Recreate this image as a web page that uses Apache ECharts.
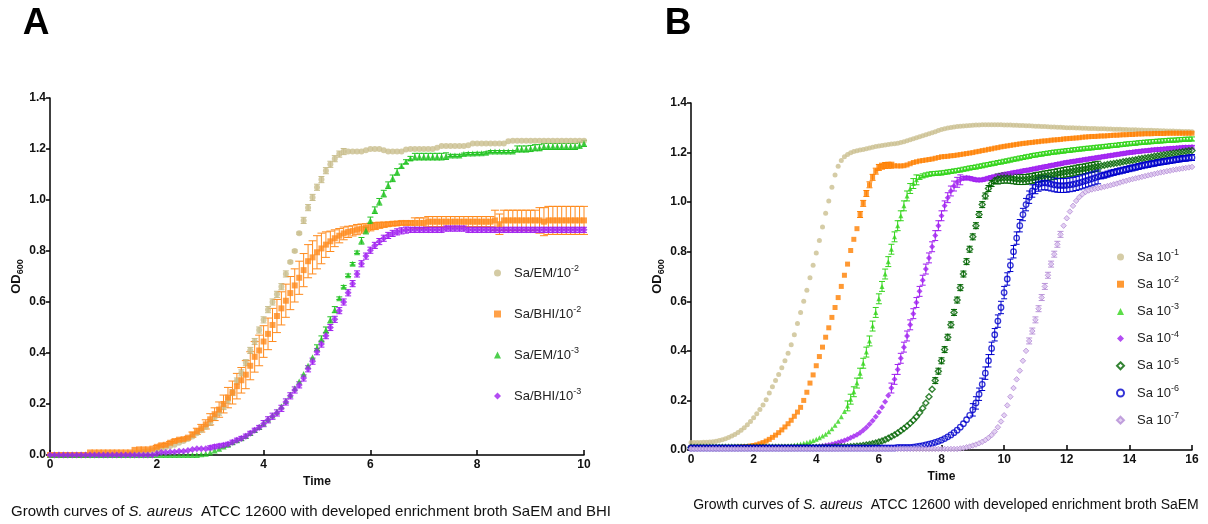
<!DOCTYPE html>
<html>
<head>
<meta charset="utf-8">
<script src="https://cdn.jsdelivr.net/npm/echarts/dist/echarts.min.js"></script>
<style>
  html, body { margin: 0; padding: 0; background: #fff; }
  #chart { width: 1208px; height: 524px; }
</style>
</head>
<body>
<div id="chart"></div>
<script>
// ---------- Panel A: SaEM vs BHI, OD600 read every 5 min for 10 h ----------
const stepA = 5 / 60;
const namesA = ['Sa/EM/10^-2', 'Sa/BHI/10^-2', 'Sa/EM/10^-3', 'Sa/BHI/10^-3'];

const emA2 = [
  0,0,0,0,0,0,0,0,0,0,0,0,
  0,0,0,0,0,0,0.005,0.008,0.01,0.012,0.015,0.018,
  0.02,0.025,0.03,0.035,0.04,0.048,0.055,0.063,0.073,0.085,0.097,0.11,
  0.128,0.148,0.168,0.19,0.215,0.245,0.29,0.322,0.362,0.41,0.445,0.49,
  0.53,0.57,0.6,0.63,0.66,0.71,0.757,0.8,0.87,0.92,0.97,1.01,
  1.05,1.08,1.115,1.14,1.162,1.18,1.19,1.19,1.19,1.19,1.19,1.195,
  1.2,1.2,1.2,1.195,1.19,1.19,1.19,1.19,1.198,1.2,1.2,1.2,
  1.2,1.2,1.2,1.205,1.212,1.212,1.212,1.212,1.212,1.212,1.215,1.222,
  1.222,1.222,1.222,1.222,1.222,1.222,1.222,1.23,1.232,1.232,1.232,1.232,
  1.232,1.232,1.232,1.232,1.232,1.232,1.232,1.232,1.232,1.232,1.232,1.232,
  1.232
];
const bhiA2 = [
  0,0,0,0,0,0,0,0,0,0.01,0.01,0.01,
  0.01,0.01,0.01,0.01,0.01,0.01,0.01,0.02,0.022,0.022,0.022,0.025,
  0.032,0.038,0.04,0.048,0.055,0.06,0.062,0.068,0.08,0.093,0.105,0.12,
  0.14,0.16,0.178,0.2,0.225,0.245,0.27,0.293,0.315,0.35,0.385,0.41,
  0.445,0.475,0.51,0.545,0.575,0.605,0.635,0.665,0.695,0.725,0.76,0.775,
  0.795,0.81,0.825,0.838,0.85,0.86,0.869,0.875,0.879,0.884,0.888,0.891,
  0.894,0.898,0.901,0.903,0.905,0.907,0.908,0.91,0.91,0.91,0.91,0.91,
  0.91,0.915,0.915,0.915,0.915,0.915,0.915,0.915,0.915,0.915,0.915,0.915,
  0.915,0.915,0.915,0.915,0.92,0.905,0.92,0.92,0.92,0.92,0.92,0.92,
  0.92,0.92,0.92,0.915,0.92,0.92,0.92,0.92,0.92,0.92,0.92,0.92,
  0.92
];
const emA3 = [
  0,0,0,0,0,0,0,0,0,0,0,0,
  0,0,0,0,0,0,0,0,0,0,0,0,
  0,0,0,0,0,0,0,0,0,0,0.003,0.005,
  0.01,0.018,0.025,0.033,0.04,0.05,0.058,0.066,0.075,0.086,0.098,0.11,
  0.125,0.14,0.155,0.17,0.19,0.212,0.236,0.262,0.288,0.318,0.35,0.383,
  0.42,0.455,0.49,0.53,0.57,0.615,0.66,0.705,0.75,0.795,0.84,0.88,
  0.92,0.96,0.993,1.025,1.058,1.085,1.11,1.133,1.15,1.163,1.17,1.17,
  1.17,1.17,1.17,1.17,1.17,1.172,1.175,1.175,1.175,1.18,1.182,1.182,
  1.183,1.183,1.185,1.19,1.19,1.19,1.19,1.19,1.19,1.2,1.2,1.2,
  1.202,1.205,1.205,1.21,1.21,1.21,1.21,1.21,1.21,1.21,1.21,1.215,
  1.222
];
const bhiA3 = [
  0,0,0,0,0,0,0,0,0,0,0,0,
  0,0,0,0,0,0,0,0,0,0,0,0,
  0.005,0.01,0.01,0.012,0.012,0.015,0.015,0.018,0.022,0.025,0.025,0.025,
  0.028,0.032,0.035,0.038,0.042,0.05,0.058,0.065,0.074,0.085,0.097,0.108,
  0.123,0.138,0.152,0.165,0.183,0.208,0.232,0.255,0.275,0.302,0.338,0.368,
  0.405,0.435,0.468,0.5,0.532,0.566,0.6,0.636,0.672,0.71,0.75,0.78,
  0.803,0.822,0.837,0.85,0.861,0.869,0.875,0.879,0.882,0.883,0.883,0.883,
  0.883,0.883,0.883,0.883,0.883,0.888,0.888,0.888,0.888,0.888,0.883,0.883,
  0.883,0.883,0.883,0.883,0.883,0.883,0.883,0.883,0.883,0.883,0.883,0.883,
  0.883,0.883,0.883,0.883,0.883,0.883,0.883,0.883,0.883,0.883,0.883,0.883,
  0.883
];

// SEM of the triplicate wells: first read time (h), then one value per read
const semEmA2From = 3.0;
const semEmA2 = [
  0.012,0.012,0.012,0.012,0.012,0.012,0.012,0.012,0.012,0.012,
  0.012,0.012,0.012,0.012,0.012,0.012,0.012,0.012,0.004,0.004,
  0.004,0.012,0.012,0.012,0.012,0.012,0.012,0.012,0.012,0.012,
  0.012
];
const semBhiA2From = 2.0;
const semBhiA2 = [
  0.005,0.005,0.005,0.005,0.005,0.005,0.005,0.005,
  0.01,0.012,0.015,0.018,
  0.022,0.025,0.03,0.035,
  0.04,0.045,0.05,0.05,0.055,0.055,0.06,0.06,
  0.062,0.062,0.065,0.065,0.065,0.065,0.065,0.065,0.065,0.065,0.065,0.065,
  0.065,0.06,0.05,0.04,
  0.033,0.028,0.025,0.022,0.02,0.02,
  0.018,0.016,0.015,0.014,0.012,0.01,
  0.008,0.008,0.008,0.008,0.008,0.008,
  0.02,0.02,0.02,0.02,0.02,0.02,0.02,0.02,0.02,0.02,0.02,0.02,0.02,0.02,0.02,0.02,0.02,0.02,
  0.04,0.04,0.04,0.04,0.04,0.04,0.04,0.04,0.04,0.04,
  0.05,0.055,0.055,0.055,0.055,0.055,0.055,0.055,0.055,0.055,0.055
];
const semEmA3From = 5.0;
const semEmA3 = [
  0.012,0.012,0.012,0.012,0.012,
  0.005,0.005,0.005,0.005,0.005,
  0.013,0.013,0.013,0.013,0.013,0.013,0.013,0.013,0.013,
  0.008,0.008,0.008,
  0.013,0.013,0.013,0.013,0.013,0.013,0.013,0.013,
  0.004,0.004,0.004,0.004,0.004,0.004,0.004,0.004,0.004,0.004,0.004,0.004,0.004,0.004,0.004,
  0.012,0.012,0.012,0.012,0.012,0.012,0.012,0.012,0.012,0.012,0.012,0.012,0.012,0.012,0.012,0.012
];
const semBhiA3From = 3.0;
const semBhiA3 = [
  0.008,0.008,0.008,0.008,0.008,0.008,0.008,0.008,0.008,0.008,0.008,0.008,
  0.012,0.012,0.012,0.012,0.012,0.012,0.012,0.012,0.012,0.012,0.012,
  0.012,0.012,0.012,0.012,0.012,0.012,0.012,0.012,0.012,0.012,0.012,
  0.012,0.012,0.012,0.012,0.012,0.012,0.012,0.012,0.012,0.012,0.012,
  0.01,0.01,0.01,0.01,0.01,0.01,0.01,0.01,0.01,0.01,
  0.01,0.01,0.01,0.01,0.01,0.01,0.01,0.01,0.01,0.01,
  0.01,0.01,0.01,0.01,0.01,0.01,0.01,0.01,0.01,0.01,
  0.01,0.01,0.01,0.01,0.01,0.01,0.01,0.01,0.01,0.01
];

// ---------- Panel B: SaEM dilution series, OD600 read every 6 min for 16 h ----------
const stepB = 0.1;
const namesB = ['Sa 10^-1', 'Sa 10^-2', 'Sa 10^-3', 'Sa 10^-4', 'Sa 10^-5', 'Sa 10^-6', 'Sa 10^-7'];

const sa1 = [
  0.03,0.03,0.03,0.03,0.031,0.031,0.032,0.033,0.035,0.038,
  0.041,0.045,0.05,0.056,0.063,0.071,0.08,0.09,0.102,0.115,
  0.13,0.146,0.163,0.182,0.203,0.23,0.255,0.28,0.305,0.332,
  0.36,0.39,0.425,0.465,0.51,0.555,0.6,0.645,0.695,0.745,
  0.795,0.845,0.9,0.955,1.005,1.06,1.11,1.145,1.168,1.183,
  1.192,1.199,1.204,1.207,1.21,1.212,1.215,1.218,1.221,1.224,
  1.227,1.229,1.231,1.233,1.235,1.236,1.238,1.241,1.244,1.248,
  1.252,1.256,1.26,1.264,1.268,1.272,1.276,1.28,1.284,1.289,
  1.293,1.296,1.299,1.301,1.303,1.305,1.306,1.307,1.308,1.309,
  1.31,1.311,1.311,1.312,1.312,1.312,1.312,1.312,1.312,1.312,
  1.311,1.311,1.311,1.31,1.31,1.309,1.309,1.308,1.308,1.307,
  1.306,1.306,1.305,1.305,1.304,1.303,1.303,1.302,1.302,1.301,
  1.3,1.3,1.3,1.299,1.299,1.298,1.298,1.297,1.297,1.297,
  1.296,1.296,1.296,1.295,1.295,1.294,1.294,1.294,1.293,1.293,
  1.292,1.292,1.292,1.291,1.291,1.29,1.29,1.29,1.289,1.289,
  1.288,1.288,1.287,1.287,1.287,1.286,1.286,1.285,1.285,1.285,
  1.284
];
const sa2 = [
  0.01,0.01,0.01,0.01,0.01,0.01,0.01,0.01,0.01,0.01,
  0.01,0.01,0.01,0.01,0.01,0.011,0.012,0.013,0.014,0.016,
  0.018,0.021,0.025,0.03,0.036,0.043,0.051,0.06,0.07,0.081,
  0.093,0.106,0.12,0.136,0.153,0.172,0.2,0.233,0.27,0.303,
  0.34,0.377,0.415,0.455,0.493,0.535,0.575,0.615,0.66,0.705,
  0.75,0.805,0.85,0.893,0.95,0.995,1.035,1.07,1.1,1.125,
  1.14,1.145,1.148,1.149,1.149,1.147,1.146,1.146,1.147,1.15,
  1.155,1.16,1.163,1.166,1.168,1.17,1.172,1.174,1.177,1.18,
  1.183,1.184,1.185,1.187,1.188,1.19,1.192,1.194,1.196,1.198,
  1.2,1.203,1.205,1.208,1.21,1.213,1.215,1.218,1.22,1.223,
  1.225,1.227,1.229,1.231,1.233,1.235,1.237,1.238,1.24,1.241,
  1.243,1.244,1.246,1.247,1.248,1.25,1.251,1.252,1.253,1.255,
  1.256,1.257,1.258,1.259,1.26,1.262,1.263,1.264,1.265,1.265,
  1.266,1.267,1.267,1.268,1.269,1.27,1.27,1.271,1.272,1.272,
  1.273,1.273,1.274,1.275,1.275,1.276,1.276,1.276,1.277,1.277,
  1.277,1.277,1.278,1.278,1.278,1.278,1.278,1.278,1.278,1.278,
  1.278
];
const sa3 = [
  0.01,0.01,0.01,0.01,0.01,0.01,0.01,0.01,0.01,0.01,
  0.01,0.01,0.01,0.01,0.01,0.01,0.01,0.01,0.01,0.01,
  0.01,0.01,0.01,0.01,0.01,0.01,0.011,0.011,0.012,0.012,
  0.014,0.015,0.017,0.019,0.021,0.024,0.027,0.03,0.034,0.038,
  0.043,0.049,0.056,0.064,0.074,0.086,0.1,0.116,0.134,0.155,
  0.178,0.205,0.235,0.27,0.31,0.35,0.395,0.44,0.5,0.555,
  0.61,0.66,0.71,0.76,0.81,0.86,0.905,0.945,0.985,1.025,
  1.055,1.075,1.09,1.1,1.106,1.11,1.113,1.115,1.116,1.117,
  1.118,1.12,1.122,1.124,1.126,1.128,1.13,1.133,1.135,1.138,
  1.14,1.142,1.145,1.147,1.15,1.152,1.155,1.157,1.16,1.162,
  1.165,1.167,1.17,1.173,1.175,1.178,1.18,1.183,1.185,1.188,
  1.19,1.192,1.194,1.196,1.198,1.2,1.202,1.203,1.205,1.206,
  1.208,1.209,1.211,1.212,1.214,1.215,1.217,1.218,1.219,1.221,
  1.222,1.223,1.225,1.226,1.228,1.229,1.23,1.232,1.233,1.235,
  1.236,1.237,1.238,1.24,1.241,1.242,1.243,1.244,1.245,1.246,
  1.247,1.248,1.249,1.25,1.25,1.251,1.252,1.253,1.254,1.254,
  1.255
];
const sa4 = [
  0.01,0.01,0.01,0.01,0.01,0.01,0.01,0.01,0.01,0.01,
  0.01,0.01,0.01,0.01,0.01,0.01,0.01,0.01,0.01,0.01,
  0.01,0.01,0.01,0.01,0.01,0.01,0.01,0.01,0.01,0.01,
  0.01,0.01,0.01,0.01,0.01,0.01,0.012,0.012,0.012,0.012,
  0.012,0.014,0.016,0.018,0.02,0.023,0.026,0.03,0.034,0.038,
  0.043,0.049,0.055,0.062,0.07,0.08,0.091,0.104,0.118,0.134,
  0.152,0.172,0.195,0.22,0.25,0.285,0.325,0.37,0.415,0.46,
  0.505,0.55,0.595,0.64,0.685,0.73,0.775,0.82,0.865,0.905,
  0.945,0.985,1.018,1.045,1.065,1.08,1.09,1.096,1.098,1.096,
  1.093,1.09,1.089,1.09,1.093,1.097,1.1,1.103,1.106,1.109,
  1.112,1.114,1.116,1.119,1.121,1.123,1.126,1.128,1.13,1.133,
  1.135,1.138,1.14,1.143,1.145,1.148,1.15,1.153,1.155,1.158,
  1.16,1.162,1.164,1.166,1.168,1.17,1.172,1.174,1.176,1.178,
  1.18,1.182,1.184,1.186,1.188,1.19,1.192,1.194,1.196,1.198,
  1.2,1.201,1.203,1.204,1.206,1.207,1.208,1.21,1.211,1.212,
  1.213,1.214,1.215,1.216,1.217,1.218,1.219,1.22,1.221,1.221,
  1.222
];
const sa5 = [
  0.01,0.01,0.01,0.01,0.01,0.01,0.01,0.01,0.01,0.01,
  0.01,0.01,0.01,0.01,0.01,0.01,0.01,0.01,0.01,0.01,
  0.01,0.01,0.01,0.01,0.01,0.01,0.01,0.01,0.01,0.01,
  0.01,0.01,0.01,0.01,0.01,0.01,0.01,0.01,0.01,0.01,
  0.01,0.01,0.01,0.01,0.01,0.01,0.012,0.012,0.012,0.012,
  0.012,0.013,0.014,0.015,0.016,0.018,0.02,0.022,0.025,0.028,
  0.032,0.036,0.041,0.047,0.054,0.061,0.069,0.078,0.087,0.097,
  0.108,0.12,0.134,0.15,0.168,0.19,0.215,0.245,0.28,0.318,
  0.36,0.405,0.455,0.505,0.555,0.605,0.655,0.71,0.76,0.81,
  0.86,0.905,0.95,0.99,1.025,1.055,1.075,1.087,1.093,1.096,
  1.097,1.097,1.096,1.094,1.092,1.091,1.091,1.092,1.094,1.096,
  1.099,1.101,1.103,1.106,1.108,1.11,1.112,1.115,1.117,1.12,
  1.122,1.124,1.126,1.129,1.131,1.133,1.135,1.138,1.14,1.143,
  1.145,1.147,1.149,1.152,1.154,1.156,1.158,1.16,1.163,1.165,
  1.167,1.169,1.171,1.174,1.176,1.178,1.18,1.182,1.185,1.187,
  1.189,1.191,1.193,1.195,1.197,1.199,1.201,1.203,1.205,1.207,
  1.208
];
const sa6 = [
  0.008,0.008,0.008,0.008,0.008,0.008,0.008,0.008,0.008,0.008,
  0.008,0.008,0.008,0.008,0.008,0.008,0.008,0.008,0.008,0.008,
  0.008,0.008,0.008,0.008,0.008,0.008,0.008,0.008,0.008,0.008,
  0.008,0.008,0.008,0.008,0.008,0.008,0.008,0.008,0.008,0.008,
  0.008,0.008,0.008,0.008,0.008,0.008,0.008,0.008,0.008,0.008,
  0.008,0.008,0.008,0.008,0.008,0.008,0.008,0.008,0.008,0.008,
  0.008,0.008,0.008,0.008,0.008,0.008,0.01,0.01,0.01,0.01,
  0.01,0.012,0.014,0.016,0.018,0.021,0.024,0.027,0.031,0.035,
  0.04,0.046,0.053,0.061,0.07,0.08,0.092,0.106,0.122,0.14,
  0.162,0.19,0.225,0.265,0.31,0.36,0.41,0.465,0.52,0.575,
  0.635,0.69,0.745,0.8,0.855,0.905,0.95,0.99,1.02,1.045,
  1.062,1.072,1.077,1.078,1.076,1.073,1.07,1.068,1.067,1.067,
  1.068,1.07,1.072,1.075,1.078,1.082,1.086,1.09,1.094,1.098,
  1.102,1.106,1.109,1.113,1.117,1.12,1.123,1.126,1.129,1.132,
  1.135,1.138,1.141,1.144,1.147,1.15,1.152,1.155,1.157,1.16,
  1.162,1.164,1.166,1.168,1.17,1.172,1.174,1.176,1.177,1.179,
  1.18
];
const sa7 = [
  0.004,0.004,0.004,0.004,0.004,0.004,0.004,0.004,0.004,0.004,
  0.004,0.004,0.004,0.004,0.004,0.004,0.004,0.004,0.004,0.004,
  0.004,0.004,0.004,0.004,0.004,0.004,0.004,0.004,0.004,0.004,
  0.004,0.004,0.004,0.004,0.004,0.004,0.004,0.004,0.004,0.004,
  0.004,0.004,0.004,0.004,0.004,0.004,0.004,0.004,0.004,0.004,
  0.004,0.004,0.004,0.004,0.004,0.004,0.004,0.004,0.004,0.004,
  0.004,0.004,0.004,0.004,0.004,0.004,0.004,0.004,0.004,0.004,
  0.004,0.004,0.004,0.004,0.004,0.004,0.004,0.004,0.004,0.004,
  0.004,0.004,0.004,0.004,0.004,0.004,0.006,0.008,0.011,0.014,
  0.018,0.022,0.027,0.033,0.04,0.049,0.06,0.074,0.092,0.115,
  0.14,0.18,0.215,0.25,0.285,0.32,0.36,0.4,0.44,0.48,
  0.525,0.57,0.615,0.66,0.705,0.75,0.79,0.83,0.87,0.905,
  0.935,0.962,0.985,1.005,1.02,1.032,1.041,1.047,1.051,1.054,
  1.056,1.059,1.062,1.065,1.068,1.072,1.075,1.079,1.083,1.086,
  1.09,1.093,1.096,1.099,1.102,1.105,1.108,1.111,1.114,1.117,
  1.12,1.122,1.125,1.127,1.13,1.132,1.134,1.136,1.138,1.14,
  1.142
];

const semSa2From = 5.4;
const semSa2 = [0.012,0.012,0.012,0.012,0.012,0.012,0.012,0.012,0.012,0.012,0.012];
const semSa3From = 5.0;
const semSa3 = [
  0.02,0.02,0.02,0.02,0.02,0.02,0.02,0.02,0.02,0.02,
  0.02,0.02,0.02,0.02,0.02,0.02,0.02,0.02,0.02,0.02,
  0.02,0.02,0.02,0.008,0.008,0.008,0.008,0.008,0.008,0.008,
  0.008,0.008,0.008,0.008,0.008,0.008,0.008,0.008,0.008,0.008,
  0.008,0.008,0.008,0.008,0.008,0.008,0.008,0.008,0.008,0.008,
  0.008,0.008,0.008,0.008,0.008,0.008,0.008,0.008,0.008,0.008,
  0.008,0.008,0.008,0.008,0.008,0.008,0.008,0.008,0.008,0.008,
  0.008,0.008,0.008,0.008,0.008,0.008,0.008,0.008,0.008,0.008,
  0.008,0.008,0.008,0.008,0.008,0.008,0.008,0.008,0.008,0.008,
  0.008,0.008,0.008,0.008,0.008,0.008,0.008,0.008,0.008,0.008,
  0.008,0.008,0.008,0.008,0.008,0.008,0.008,0.008,0.008,0.008,
  0.008
];
const semSa4From = 6.4;
const semSa4 = [
  0.02,0.02,0.02,0.02,0.02,0.02,0.02,0.02,0.02,0.02,
  0.02,0.02,0.02,0.02,0.02,0.02,0.02,0.02,0.02,0.02,
  0.02,0.02,0.02,0.007,0.007,0.007,0.007,0.007,0.007,0.007,
  0.007,0.007,0.007,0.007,0.007,0.007,0.007,0.007,0.007,0.007,
  0.007,0.007,0.007,0.007,0.007,0.007,0.007,0.007,0.007,0.007,
  0.007,0.007,0.007,0.007,0.007,0.007,0.007,0.007,0.007,0.007,
  0.007,0.007,0.007,0.007,0.007,0.007,0.007,0.007,0.007,0.007,
  0.007,0.007,0.007,0.007,0.007,0.007,0.007,0.007,0.007,0.007,
  0.007,0.007,0.007,0.007,0.007,0.007,0.007,0.007,0.007,0.007,
  0.007,0.007,0.007,0.007,0.007,0.007,0.007
];
const semSa5From = 7.8;
const semSa5 = [
  0.012,0.012,0.012,0.012,0.012,0.012,0.012,0.012,0.012,0.012,
  0.012,0.012,0.012,0.012,0.012,0.012,0.012,0.012,0.012,0.012,
  0.02,0.02,0.02,0.02,0.02,0.02,0.02,0.02,0.02,0.02,
  0.02,0.02,0.02,0.02,0.02,0.02,0.02,0.02,0.02,0.02,
  0.02,0.02,0.02,0.02,0.02,0.02,0.02,0.02,0.02,0.02,
  0.02,0.02,0.02
];
const semSa6From = 9.0;
const semSa6 = [
  0.025,0.025,0.025,0.025,0.025,0.025,0.025,0.025,0.025,0.025,
  0.025,0.025,0.025,0.025,0.025,0.025,0.025,0.025,0.025,0.025,
  0.028,0.028,0.028,0.028,0.028,0.028,0.028,0.028,0.028,0.028,
  0.028,0.028,0.028,0.028,0.028,0.028,0.028,0.028,0.028,0.028,
  0.028,
  0.012,0.012,0.012,0.012,0.012,0.012,0.012,0.012,0.012,0.012,
  0.012,0.012,0.012,0.012,0.012,0.012,0.012,0.012,0.012,0.012,
  0.012,0.012,0.012,0.012,0.012,0.012,0.012,0.012,0.012,0.012
];
const semSa7From = 10.8;
const semSa7 = [0.012,0.012,0.012,0.012,0.012,0.012,0.012,0.012,0.012,0.012,0.012];

// ---------- drawing ----------
const FONT = 'Arial, "Liberation Sans", Helvetica, sans-serif';

function readings(values, step) {
  return values.map((v, i) => [Math.round(i * step * 1000) / 1000, v]);
}
function semBars(values, sem, from, step) {
  const first = Math.round(from / step);
  const out = [];
  sem.forEach((e, k) => {
    const i = first + k;
    if (values[i] !== undefined && e > 0) out.push([Math.round(i * step * 1000) / 1000, values[i], e]);
  });
  return out;
}

function errorSeries(data, axis, color, cap) {
  return {
    type: 'custom', xAxisIndex: axis, yAxisIndex: axis, silent: true,
    encode: { x: 0, y: 1 }, data,
    renderItem(params, api) {
      const x = api.value(0), y = api.value(1), e = api.value(2);
      const hi = api.coord([x, y + e]);
      const lo = api.coord([x, Math.max(0, y - e)]);
      const style = { stroke: color, lineWidth: 1 };
      return {
        type: 'group', children: [
          { type: 'line', shape: { x1: hi[0], y1: hi[1], x2: lo[0], y2: lo[1] }, style },
          { type: 'line', shape: { x1: hi[0] - cap, y1: hi[1], x2: hi[0] + cap, y2: hi[1] }, style },
          { type: 'line', shape: { x1: lo[0] - cap, y1: lo[1], x2: lo[0] + cap, y2: lo[1] }, style }
        ]
      };
    }
  };
}
function pointSeries(name, data, axis, symbol, size, itemStyle) {
  return {
    type: 'scatter', name, data, xAxisIndex: axis, yAxisIndex: axis, silent: true,
    symbol, symbolSize: size, itemStyle
  };
}

const series = [];
// panel A, drawn in order so later strains sit on top
series.push(errorSeries(semBars(emA2, semEmA2, semEmA2From, stepA), 0, '#C9BE8D', 3));
series.push(pointSeries(namesA[0], readings(emA2, stepA), 0, 'circle', 6, { color: '#C9BE8D' }));
series.push(errorSeries(semBars(bhiA2, semBhiA2, semBhiA2From, stepA), 0, '#FF8A1C', 4));
series.push(pointSeries(namesA[1], readings(bhiA2, stepA), 0, 'rect', 6, { color: '#FF8A1C' }));
series.push(errorSeries(semBars(emA3, semEmA3, semEmA3From, stepA), 0, '#22C322', 3));
series.push(pointSeries(namesA[2], readings(emA3, stepA), 0, 'triangle', 6, { color: '#22C322' }));
series.push(errorSeries(semBars(bhiA3, semBhiA3, semBhiA3From, stepA), 0, '#A020F0', 3));
series.push(pointSeries(namesA[3], readings(bhiA3, stepA), 0, 'diamond', 7, { color: '#A020F0' }));

// panel B
series.push(pointSeries(namesB[0], readings(sa1, stepB), 1, 'circle', 5, { color: '#CBBF90' }));
series.push(errorSeries(semBars(sa2, semSa2, semSa2From, stepB), 1, '#FF8000', 3));
series.push(pointSeries(namesB[1], readings(sa2, stepB), 1, 'rect', 5, { color: '#FF8000' }));
series.push(errorSeries(semBars(sa3, semSa3, semSa3From, stepB), 1, '#33D41A', 3));
series.push(pointSeries(namesB[2], readings(sa3, stepB), 1, 'triangle', 5, { color: '#33D41A' }));
series.push(errorSeries(semBars(sa4, semSa4, semSa4From, stepB), 1, '#A020F0', 3));
series.push(pointSeries(namesB[3], readings(sa4, stepB), 1, 'diamond', 6, { color: '#A020F0' }));
series.push(errorSeries(semBars(sa5, semSa5, semSa5From, stepB), 1, '#006400', 3));
series.push(pointSeries(namesB[4], readings(sa5, stepB), 1, 'diamond', 6, { color: 'rgba(255,255,255,0)', borderColor: '#006400', borderWidth: 1.4 }));
series.push(errorSeries(semBars(sa6, semSa6, semSa6From, stepB), 1, '#0000CC', 3));
series.push(pointSeries(namesB[5], readings(sa6, stepB), 1, 'circle', 5.5, { color: 'rgba(255,255,255,0)', borderColor: '#0000CC', borderWidth: 1.3 }));
series.push(errorSeries(semBars(sa7, semSa7, semSa7From, stepB), 1, '#B993D8', 3));
series.push(pointSeries(namesB[6], readings(sa7, stepB), 1, 'diamond', 5.5, { color: '#DCC6EF', borderColor: '#B48CD6', borderWidth: 1 }));

const tickLabel = { color: '#111', fontSize: 12, fontWeight: 'bold', fontFamily: FONT };
function xAxisFor(idx, max) {
  return {
    type: 'value', gridIndex: idx, min: 0, max, interval: 2,
    axisLine: { show: true, onZero: false, lineStyle: { color: '#000', width: 1.5 } },
    axisTick: { show: true, inside: true, length: 5, lineStyle: { color: '#000', width: 1.5 } },
    axisLabel: Object.assign({ margin: 4 }, tickLabel),
    splitLine: { show: false },
    name: 'Time', nameLocation: 'middle', nameGap: 20,
    nameTextStyle: { color: '#111', fontSize: 12, fontWeight: 'bold', fontFamily: FONT }
  };
}
function yAxisFor(idx, gap) {
  return {
    type: 'value', gridIndex: idx, min: 0, max: 1.4, interval: 0.2,
    axisLine: { show: true, onZero: false, lineStyle: { color: '#000', width: 1.5 } },
    axisTick: { show: true, inside: false, length: 4, lineStyle: { color: '#000', width: 1.5 } },
    axisLabel: Object.assign({ margin: 4, formatter: v => v.toFixed(1) }, tickLabel),
    splitLine: { show: false },
    name: '{a|OD}{s|600}', nameLocation: 'middle', nameGap: gap,
    nameTextStyle: {
      rich: {
        a: { fontSize: 13, fontWeight: 'bold', fontFamily: FONT, color: '#111', lineHeight: 17 },
        s: { fontSize: 9, fontWeight: 'bold', fontFamily: FONT, color: '#111', lineHeight: 9, verticalAlign: 'bottom' }
      }
    }
  };
}
function legendFor(names, left, top, gap) {
  return {
    data: names, orient: 'vertical', left, top, itemGap: gap,
    itemWidth: 7, itemHeight: 7, selectedMode: false,
    formatter: n => { const p = n.split('^'); return '{b|' + p[0] + '}{s|' + p[1] + '}'; },
    textStyle: {
      padding: [0, 0, 0, 8],
      rich: {
        b: { fontSize: 13, fontFamily: FONT, color: '#222', lineHeight: 18 },
        s: { fontSize: 9, fontFamily: FONT, color: '#222', lineHeight: 9, verticalAlign: 'top' }
      }
    }
  };
}
function caption(text, x, y, size) {
  const parts = text.split('|');
  return {
    type: 'text', x, y,
    style: {
      text: '{n|' + parts[0] + '}{i|' + parts[1] + '}{n|' + parts[2] + '}',
      align: 'center', verticalAlign: 'middle',
      rich: {
        n: { fontSize: size, fontFamily: FONT, fill: '#111', color: '#111' },
        i: { fontSize: size, fontFamily: FONT, fill: '#111', color: '#111', fontStyle: 'italic' }
      }
    }
  };
}

const option = {
  animation: false,
  backgroundColor: '#fff',
  grid: [
    { left: 50, top: 98, width: 534, height: 357, containLabel: false, outerBoundsMode: 'none' },
    { left: 691, top: 103, width: 501, height: 347, containLabel: false, outerBoundsMode: 'none' }
  ],
  xAxis: [xAxisFor(0, 10), xAxisFor(1, 16)],
  yAxis: [yAxisFor(0, 16), yAxisFor(1, 9)],
  legend: [legendFor(namesA, 489, 259, 25.5), legendFor(namesB, 1111, 243, 11.7)],
  series,
  graphic: [
    { type: 'text', x: 36, y: 24, style: { text: 'A', fontSize: 37, fontWeight: 'bold', fontFamily: FONT, fill: '#000', align: 'center', verticalAlign: 'middle' } },
    { type: 'text', x: 678, y: 24, style: { text: 'B', fontSize: 37, fontWeight: 'bold', fontFamily: FONT, fill: '#000', align: 'center', verticalAlign: 'middle' } },
    caption('Growth curves of |S. aureus|  ATCC 12600 with developed enrichment broth SaEM and BHI', 311, 512, 15),
    caption('Growth curves of |S. aureus|  ATCC 12600 with developed enrichment broth SaEM', 946, 505, 14)
  ]
};

const chart = echarts.init(document.getElementById('chart'), null, { renderer: 'canvas' });
chart.setOption(option);
</script>
</body>
</html>
